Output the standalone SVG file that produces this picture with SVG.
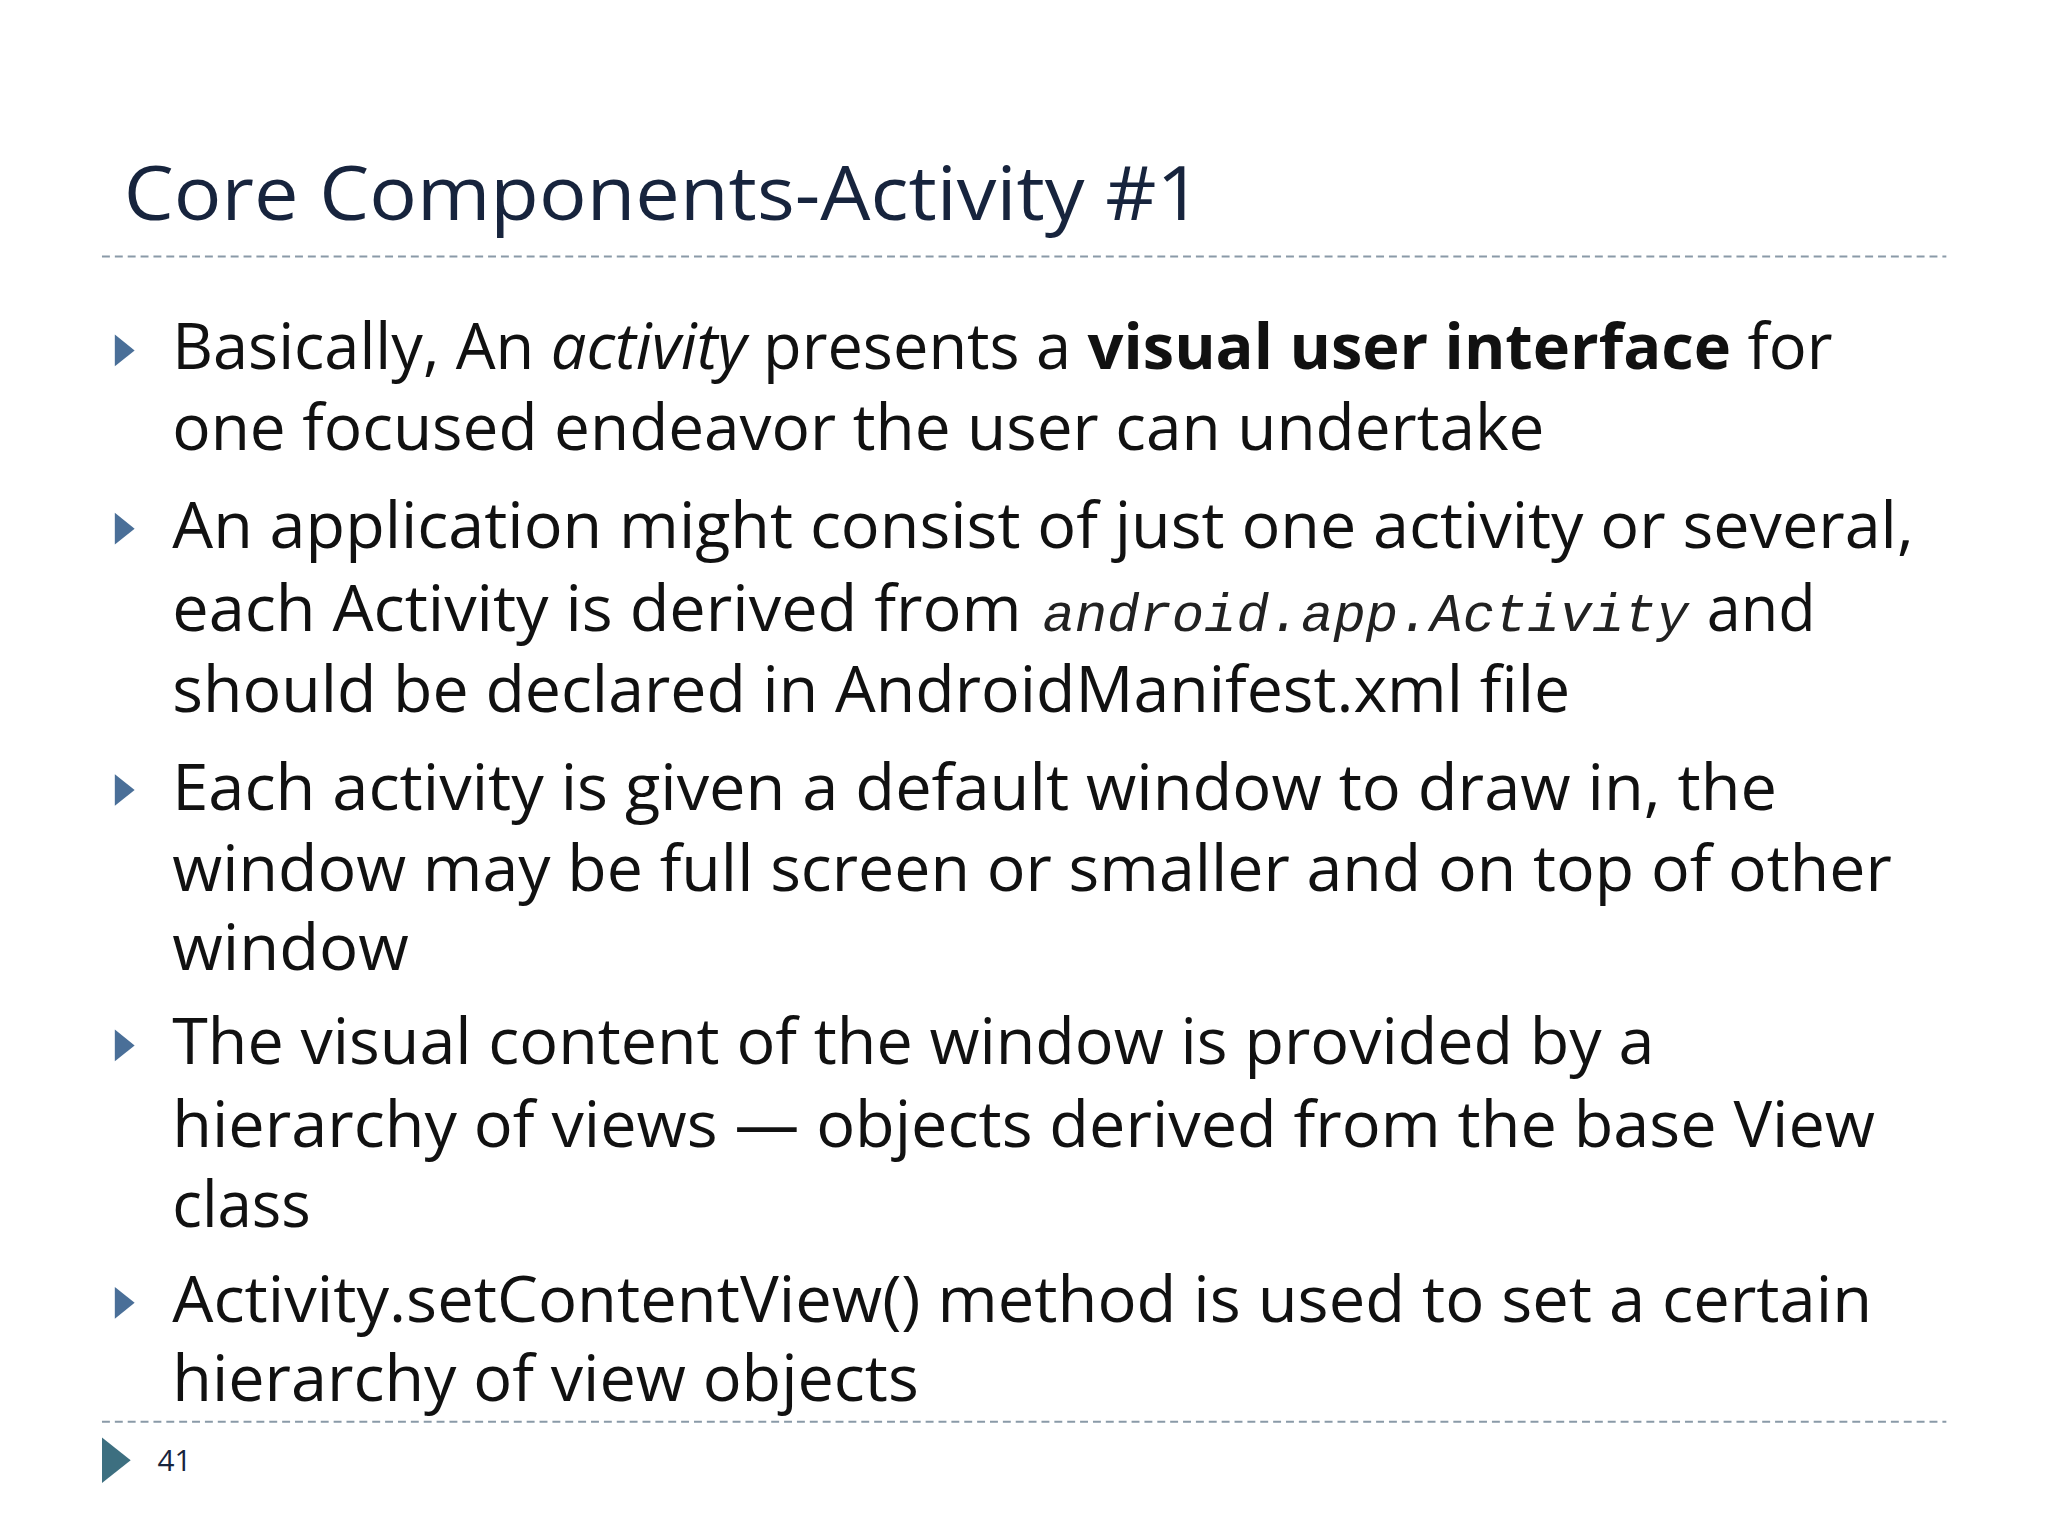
<svg xmlns="http://www.w3.org/2000/svg" width="2048" height="1536" viewBox="0 0 2048 1536">
<style>
.t{font-family:"Open Sans","Noto Sans",sans-serif;font-size:64px;fill:#111}
.m{font-family:"Liberation Mono",monospace;font-style:italic;font-size:54px;fill:#222}
.d{stroke:#8a9aa8;stroke-width:2;stroke-dasharray:8,5}
.b{fill:#4a6f98}
</style>
<rect width="2048" height="1536" fill="#fff"/>
<g transform="scale(0.99)">
<g id="title"><text x="125" y="222" font-family="Open Sans,Noto Sans,sans-serif" font-size="76" fill="#17243d" textLength="1089" lengthAdjust="spacingAndGlyphs">Core Components-Activity #1</text></g>
<line class="d" x1="103" y1="259" x2="1966" y2="259"/>
<line class="d" x1="103" y1="1436" x2="1966" y2="1436"/>
<g id="bullets">
<polygon class="b" points="116,338 136,354 116,370"/>
<polygon class="b" points="116,518 136,534 116,550"/>
<polygon class="b" points="116,782 136,798 116,814"/>
<polygon class="b" points="116,1040 136,1056 116,1072"/>
<polygon class="b" points="116,1300 136,1316 116,1332"/>
</g>
<g id="text">
<text class="t" x="174" y="373" textLength="1677" lengthAdjust="spacingAndGlyphs">Basically, An <tspan font-style="italic">activity</tspan> presents a <tspan font-weight="bold">visual user interface</tspan> for</text>
<text class="t" x="174" y="455" textLength="1386" lengthAdjust="spacingAndGlyphs">one focused endeavor the user can undertake</text>
<text class="t" x="174" y="554" textLength="1759" lengthAdjust="spacingAndGlyphs">An application might consist of just one activity or several,</text>
<text class="t" x="174" y="637" textLength="858" lengthAdjust="spacingAndGlyphs">each Activity is derived from</text>
<text class="m" x="1053" y="637" textLength="653" lengthAdjust="spacingAndGlyphs">android.app.Activity</text>
<text class="t" x="1724" y="637" textLength="110" lengthAdjust="spacingAndGlyphs">and</text>
<text class="t" x="174" y="719" textLength="1412" lengthAdjust="spacingAndGlyphs">should be declared in AndroidManifest.xml file</text>
<text class="t" x="174" y="818" textLength="1621" lengthAdjust="spacingAndGlyphs">Each activity is given a default window to draw in, the</text>
<text class="t" x="174" y="900" textLength="1737" lengthAdjust="spacingAndGlyphs">window may be full screen or smaller and on top of other</text>
<text class="t" x="174" y="980" textLength="239" lengthAdjust="spacingAndGlyphs">window</text>
<text class="t" x="174" y="1075" textLength="1497" lengthAdjust="spacingAndGlyphs">The visual content of the window is provided by a</text>
<text class="t" x="174" y="1159" textLength="1720" lengthAdjust="spacingAndGlyphs">hierarchy of views — objects derived from the base View</text>
<text class="t" x="174" y="1239" textLength="140" lengthAdjust="spacingAndGlyphs">class</text>
<text class="t" x="174" y="1335" textLength="1717" lengthAdjust="spacingAndGlyphs">Activity.setContentView() method is used to set a certain</text>
<text class="t" x="174" y="1415" textLength="754" lengthAdjust="spacingAndGlyphs">hierarchy of view objects</text>
</g>
<g id="footer">
<polygon points="103,1452 132,1475 103,1498" fill="#3d6f80"/>
<text x="159" y="1486" font-family="Open Sans,Noto Sans,sans-serif" font-size="30" fill="#17243d">41</text>
</g>
</g>
</svg>
